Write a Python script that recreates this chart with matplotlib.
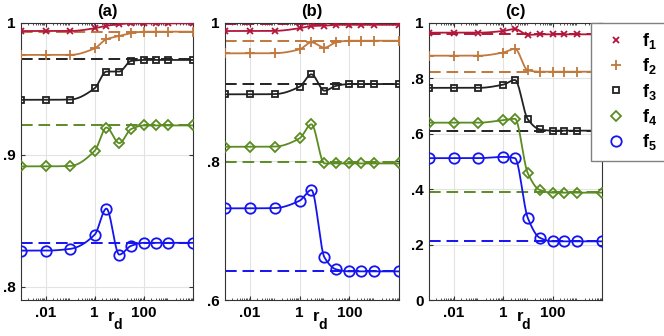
import numpy as np
import matplotlib.pyplot as plt
from matplotlib.lines import Line2D
from matplotlib.ticker import FixedLocator, FixedFormatter, LogLocator, NullFormatter

plt.rcParams['font.family'] = ['Liberation Sans', 'DejaVu Sans']
plt.rcParams['font.weight'] = 'bold'
plt.rcParams['mathtext.fontset'] = 'custom'
plt.rcParams['mathtext.rm'] = 'Liberation Sans:bold'
plt.rcParams['mathtext.it'] = 'Liberation Sans:bold'
plt.rcParams['mathtext.bf'] = 'Liberation Sans:bold'
plt.rcParams['mathtext.default'] = 'bf'

# r_d values where the markers sit
rd = [1e-3, 1e-2, 1e-1, 1, 3, 10, 30, 100, 300, 1e3, 1e4]

# panel (a)
a_f1 = [0.9937, 0.9937, 0.9937, 0.9958, 0.9977, 0.9988, 0.9995, 0.9995, 0.9995, 0.9995, 0.9995]
a_f2 = [0.9756, 0.9756, 0.9756, 0.9806, 0.9875, 0.9899, 0.9920, 0.9932, 0.9932, 0.9932, 0.9932]
a_f3 = [0.9416, 0.9416, 0.9418, 0.9504, 0.9630, 0.9630, 0.9710, 0.9718, 0.9718, 0.9718, 0.9718]
a_f4 = [0.8912, 0.8912, 0.8915, 0.9030, 0.9206, 0.9088, 0.9194, 0.9222, 0.9222, 0.9222, 0.9222]
a_f5 = [0.8274, 0.8274, 0.8287, 0.8395, 0.8592, 0.8244, 0.8310, 0.8333, 0.8333, 0.8333, 0.8333]
a_ref = [0.9995, 0.9932, 0.9723, 0.9222, 0.8333]

# panel (b)
b_f1 = [0.9880, 0.9880, 0.9882, 0.9920, 0.9952, 0.9957, 0.9970, 0.9970, 0.9970, 0.9970, 0.9970]
b_f2 = [0.9558, 0.9558, 0.9560, 0.9616, 0.9717, 0.9640, 0.9717, 0.9740, 0.9740, 0.9740, 0.9740]
b_f3 = [0.8967, 0.8967, 0.8970, 0.9077, 0.9255, 0.9019, 0.9090, 0.9115, 0.9115, 0.9115, 0.9115]
b_f4 = [0.8210, 0.8210, 0.8213, 0.8332, 0.8534, 0.7970, 0.7970, 0.7970, 0.7970, 0.7970, 0.7970]
b_f5 = [0.7322, 0.7322, 0.7326, 0.7432, 0.7586, 0.6615, 0.6441, 0.6413, 0.6413, 0.6413, 0.6413]
b_ref = [0.9980, 0.9740, 0.9115, 0.7995, 0.6417]

# panel (c)
c_f1 = [0.9640, 0.9640, 0.9640, 0.9700, 0.9774, 0.9560, 0.9580, 0.9580, 0.9580, 0.9580, 0.9580]
c_f2 = [0.8810, 0.8810, 0.8810, 0.8925, 0.9057, 0.8280, 0.8233, 0.8233, 0.8233, 0.8233, 0.8233]
c_f3 = [0.7650, 0.7650, 0.7650, 0.7767, 0.7935, 0.6513, 0.6154, 0.6107, 0.6107, 0.6107, 0.6107]
c_f4 = [0.6394, 0.6394, 0.6394, 0.6487, 0.6536, 0.4566, 0.3968, 0.3871, 0.3871, 0.3871, 0.3871]
c_f5 = [0.5115, 0.5115, 0.5115, 0.5161, 0.5115, 0.2953, 0.2247, 0.2115, 0.2115, 0.2115, 0.2115]
c_ref = [0.9595, 0.8233, 0.6080, 0.3885, 0.2115]

titles = ['(a)', '(b)', '(c)']
ylims = [(0.79, 1.0), (0.6, 1.0), (0.0, 1.0)]
yticks = [[0.8, 0.9, 1.0], [0.6, 0.8, 1.0], [0.0, 0.2, 0.4, 0.6, 0.8, 1.0]]
yticklabels = [['.8', '.9', '1'], ['.6', '.8', '1'], ['0', '.2', '.4', '.6', '.8', '1']]
xticks = [1e-2, 1, 1e2]
xticklabels = ['.01', '1', '100']
labels = ['$f_1$', '$f_2$', '$f_3$', '$f_4$', '$f_5$']

colors = ['#B2163B', '#C0783C', '#222222', '#5B8C22', '#1414F0']
markers = ['x', '+', 's', 'D', 'o']
msizes = [5, 6.5, 5, 5.5, 7.5]


def pchip(x, y, xn):
    # shape preserving cubic through the markers, used only to draw the line
    x = np.asarray(x, float)
    y = np.asarray(y, float)
    h = np.diff(x)
    d = np.diff(y) / h
    m = np.zeros_like(y)
    for k in range(1, len(x) - 1):
        if d[k - 1] * d[k] > 0:
            w1 = 2 * h[k] + h[k - 1]
            w2 = h[k] + 2 * h[k - 1]
            m[k] = (w1 + w2) / (w1 / d[k - 1] + w2 / d[k])
    m[0] = d[0]
    m[-1] = d[-1]
    idx = np.clip(np.searchsorted(x, xn) - 1, 0, len(x) - 2)
    t = (xn - x[idx]) / h[idx]
    h00 = 2 * t**3 - 3 * t**2 + 1
    h10 = t**3 - 2 * t**2 + t
    h01 = -2 * t**3 + 3 * t**2
    h11 = t**3 - t**2
    return h00 * y[idx] + h10 * h[idx] * m[idx] + h01 * y[idx + 1] + h11 * h[idx] * m[idx + 1]


panels = [
    [a_f1, a_f2, a_f3, a_f4, a_f5],
    [b_f1, b_f2, b_f3, b_f4, b_f5],
    [c_f1, c_f2, c_f3, c_f4, c_f5],
]
refs = [a_ref, b_ref, c_ref]

fig = plt.figure(figsize=(6.64, 3.36), dpi=100)
lefts = [21, 225, 429]
widths = [172, 174, 173]

lx = np.log10(rd)
lfine = np.linspace(lx[0], lx[-1], 400)

for i in range(3):
    ax = fig.add_axes([lefts[i] / 664, 36 / 336, widths[i] / 664, 277.3 / 336])
    ax.set_xscale('log')
    for j in range(5):
        ax.axhline(refs[i][j], color=colors[j], ls=(0, (6, 3)), lw=1.4, zorder=2)
    for j in range(5):
        yv = panels[i][j]
        ax.plot(10**lfine, pchip(lx, yv, lfine), color=colors[j], lw=1.3, zorder=3)
        ax.plot(rd, yv, ls='none', marker=markers[j], ms=msizes[j], mfc='none',
                mec=colors[j], mew=1.3, zorder=4)
    ax.set_xlim(1e-3, 1e4)
    ax.set_ylim(*ylims[i])
    ax.xaxis.set_major_locator(FixedLocator(xticks))
    ax.xaxis.set_major_formatter(FixedFormatter(xticklabels))
    ax.xaxis.set_minor_locator(LogLocator(base=10, subs=np.arange(2, 10), numticks=20))
    ax.xaxis.set_minor_formatter(NullFormatter())
    ax.yaxis.set_major_locator(FixedLocator(yticks[i]))
    ax.yaxis.set_major_formatter(FixedFormatter(yticklabels[i]))
    ax.tick_params(which='both', direction='in', top=True, right=True,
                   labelsize=11, color='#333333', pad=4)
    ax.tick_params(which='major', length=3)
    ax.tick_params(which='minor', length=1.5)
    ax.grid(True, which='major', color='#E3E3E3', lw=0.8, zorder=0)
    ax.set_axisbelow(True)
    for s in ax.spines.values():
        s.set_color('#333333')
        s.set_linewidth(0.8)
    ax.set_title(titles[i], fontsize=12, fontweight='bold', pad=5)
    ax.text(0.525, -0.06, 'r', transform=ax.transAxes, ha='center',
            va='center', fontsize=12)
    ax.text(0.56, -0.09, 'd', transform=ax.transAxes, ha='center',
            va='center', fontsize=10)

handles = [Line2D([], [], ls='none', marker=markers[j], ms=msizes[j], mfc='none',
                  mec=colors[j], mew=1.3) for j in range(5)]
leg = fig.legend(handles, labels, loc='upper left', bbox_to_anchor=(591 / 664, 1 - 22.7 / 336),
                 frameon=True, fancybox=False, edgecolor='#808080', framealpha=1,
                 borderaxespad=0, borderpad=0.45, handlelength=1.9, handletextpad=0.45,
                 labelspacing=0.3, fontsize=13)
leg.get_frame().set_linewidth(1.0)

fig.savefig('out.png', dpi=100)
